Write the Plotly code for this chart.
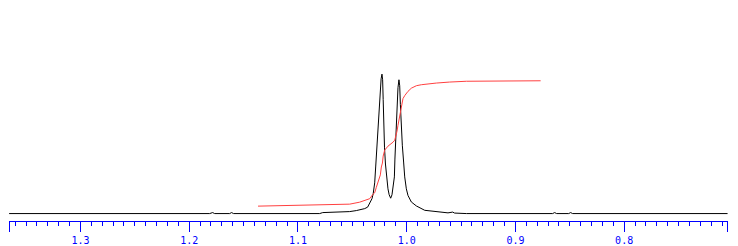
import plotly.graph_objects as go

# Chemical shift (ppm) and intensity (arbitrary units)
spec_ppm = [1.3656, 1.1812, 1.1784, 1.1766, 1.1628, 1.1610, 1.1592, 1.0800, 1.0772,
            1.0589, 1.0524, 1.0463, 1.0414, 1.0386, 1.0359, 1.0340, 1.0319, 1.0308,
            1.0294, 1.0285, 1.0273, 1.0262, 1.0253, 1.0244, 1.0235, 1.0227, 1.0221,
            1.0216, 1.0212, 1.0204, 1.0195, 1.0184, 1.0172, 1.0161, 1.0147, 1.0135,
            1.0124, 1.0113, 1.0108, 1.0103, 1.0097, 1.0089, 1.0080, 1.0071, 1.0064,
            1.0058, 1.0051, 1.0040, 1.0028, 1.0018, 1.0003, 0.9988, 0.9957, 0.9911,
            0.9834, 0.9712, 0.9620, 0.9577, 0.9559, 0.9451, 0.8658, 0.8639, 0.8621,
            0.8510, 0.8492, 0.8474, 0.7049]
spec_int = [0, 0, 1, 0, 0, 1, 0, 0, 1,
            1.7, 2, 3, 4, 5, 6.5, 10, 15, 20,
            31, 47, 69, 93, 110, 125, 136, 140.7, 135,
            115, 90, 67, 50, 35, 25, 19, 15.5, 19,
            27, 37, 55, 69, 93, 110, 127, 135, 129,
            110, 90, 69, 52, 37, 25, 18.3, 11.7, 7.7,
            3.3, 1.7, 0.7, 1.5, 0.5, 0, 0, 1, 0,
            0, 1, 0, 0]

integ_ppm = [1.1367, 1.0727, 1.0524, 1.0432, 1.0386, 1.0340, 1.0310, 1.0294, 1.0279,
             1.0264, 1.0255, 1.0242, 1.0233, 1.0223, 1.0216, 1.0202, 1.0172, 1.0147,
             1.0126, 1.0110, 1.0101, 1.0089, 1.0080, 1.0071, 1.0060, 1.0049, 1.0034,
             1.0018, 1.0003, 0.9988, 0.9957, 0.9911, 0.9865, 0.9819, 0.9727, 0.9605,
             0.9451, 0.8768]
integ_val = [7.5, 8.5, 9.5, 11.5, 13, 15, 19.5, 21, 26.5,
             31, 35, 39, 47, 51, 58, 64, 68, 70,
             72, 74, 77, 83, 89, 94, 103, 108, 116,
             119, 121.5, 123.3, 126.5, 129, 130, 130.7, 131.7, 132.7,
             133.5, 134]

x_range = [1.3657, 0.7045]
tick_vals = [1.3655, 1.3, 1.2, 1.1, 1.0, 0.9, 0.8, 0.7047]
tick_text = ["", "1.3", "1.2", "1.1", "1.0", "0.9", "0.8", ""]

fig = go.Figure()
fig.add_trace(go.Scatter(x=spec_ppm, y=spec_int, mode="lines",
                         line=dict(color="black", width=1), hoverinfo="skip"))
fig.add_trace(go.Scatter(x=integ_ppm, y=integ_val, mode="lines",
                         line=dict(color="#ff4040", width=1), hoverinfo="skip"))

fig.update_layout(
    width=738, height=246,
    margin=dict(l=9, r=10, t=0, b=23),
    paper_bgcolor="white", plot_bgcolor="white",
    showlegend=False,
    xaxis=dict(range=x_range, showgrid=False, zeroline=False,
               showline=True, linecolor="#0000ff", linewidth=1,
               tickmode="array", tickvals=tick_vals, ticktext=tick_text,
               ticks="outside", ticklen=10, tickcolor="#0000ff", tickwidth=1,
               tickfont=dict(family="DejaVu Sans Mono", size=10, color="#0000ff"),
               minor=dict(tickmode="linear", tick0=0, dtick=0.01, ticks="outside",
                          ticklen=4, tickcolor="#0000ff", tickwidth=1, showgrid=False)),
    yaxis=dict(range=[-7.5, 215.5], visible=False, showgrid=False, zeroline=False),
)

fig.write_html("out.html", config={"displayModeBar": False})
